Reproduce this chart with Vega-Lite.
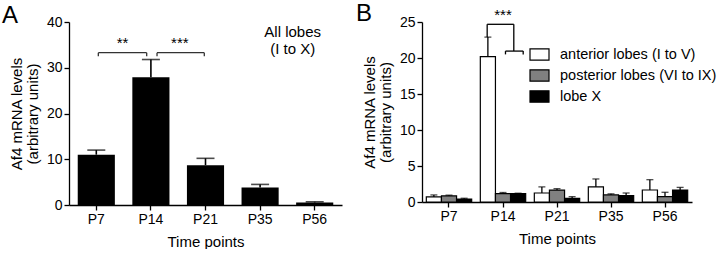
{
  "$schema": "https://vega.github.io/schema/vega-lite/v6.json",
  "padding": {"left": 2, "top": 2, "right": 0, "bottom": 0},
  "spacing": 14,
  "resolve": {"scale": {"y": "independent", "fill": "independent", "size": "independent"}, "axis": {"y": "independent"}, "legend": {"fill": "independent"}},
  "config": {
    "font": "Liberation Sans",
    "view": {"stroke": null},
    "axis": {"grid": false, "domainColor": "black", "tickColor": "black", "labelColor": "black", "titleColor": "black", "labelFontSize": 14, "titleFontSize": 15, "titleFontWeight": "normal", "tickSize": 5, "domainWidth": 1.3, "tickWidth": 1.3, "labelPadding": 2}
  },
  "hconcat": [
    {
      "width": 273,
      "height": 183,
      "layer": [
        {
          "data": {"values": [
            {"time": "P7", "value": 11.0, "upper": 12.0},
            {"time": "P14", "value": 27.9, "upper": 31.8},
            {"time": "P21", "value": 8.7, "upper": 10.2},
            {"time": "P35", "value": 3.8, "upper": 4.5},
            {"time": "P56", "value": 0.55, "upper": 0.7}
          ]},
          "encoding": {
            "x": {"field": "time", "type": "ordinal", "sort": null, "scale": {"paddingInner": 0.32, "paddingOuter": 0.16}, "axis": {"title": "Time points", "labelAngle": 0, "titlePadding": 8}},
            "y": {"field": "value", "type": "quantitative", "scale": {"domain": [0, 40]}, "axis": {"values": [0, 10, 20, 30, 40], "title": ["Af4 mRNA levels", "(arbitrary units)"], "titleLineHeight": 16, "titlePadding": 6}}
          },
          "layer": [
            {"mark": {"type": "rule", "color": "black", "strokeWidth": 1.6},
             "encoding": {"y2": {"field": "upper"}}},
            {"mark": {"type": "tick", "color": "black", "size": 18, "thickness": 1.6},
             "encoding": {"y": {"field": "upper", "type": "quantitative", "scale": {"domain": [0, 40]}, "axis": {"values": [0, 10, 20, 30, 40], "title": ["Af4 mRNA levels", "(arbitrary units)"], "titleLineHeight": 16, "titlePadding": 6}}}},
            {"mark": {"type": "bar", "color": "black"}, "encoding": {}}
          ]
        },
        {
          "layer": [
            {
              "data": {"values": [
                {"x": 1.037, "x2": 1.923, "y": 33.3, "y2": 33.3},
                {"x": 1.037, "x2": 1.037, "y": 33.3, "y2": 32.5},
                {"x": 1.923, "x2": 1.923, "y": 33.3, "y2": 32.5},
                {"x": 2.112, "x2": 2.978, "y": 33.3, "y2": 33.3},
                {"x": 2.112, "x2": 2.112, "y": 33.3, "y2": 32.5},
                {"x": 2.978, "x2": 2.978, "y": 33.3, "y2": 32.5}
              ]},
              "mark": {"type": "rule", "color": "#333333", "strokeWidth": 1.3},
              "encoding": {
                "x": {"field": "x", "type": "quantitative", "scale": {"domain": [0.5, 5.5], "nice": false, "zero": false}, "axis": null},
                "x2": {"field": "x2"},
                "y": {"field": "y", "type": "quantitative", "scale": {"domain": [0, 40]}, "axis": {"values": [0, 10, 20, 30, 40], "title": ["Af4 mRNA levels", "(arbitrary units)"], "titleLineHeight": 16, "titlePadding": 6}},
                "y2": {"field": "y2"}
              }
            },
            {
              "data": {"values": [
                {"x": 1.48, "y": 35.4, "label": "**", "size": 15},
                {"x": 2.53, "y": 35.4, "label": "***", "size": 15},
                {"x": 4.597, "y": 37.9, "label": "All lobes", "size": 15},
                {"x": 4.597, "y": 34.0, "label": "(I to X)", "size": 15},
                {"x": -0.58, "y": 41.4, "label": "A", "size": 24}
              ]},
              "mark": {"type": "text", "color": "black", "baseline": "middle", "align": "center"},
              "encoding": {
                "x": {"field": "x", "type": "quantitative", "scale": {"domain": [0.5, 5.5], "nice": false, "zero": false}, "axis": null},
                "y": {"field": "y", "type": "quantitative", "scale": {"domain": [0, 40]}, "axis": {"values": [0, 10, 20, 30, 40], "title": ["Af4 mRNA levels", "(arbitrary units)"], "titleLineHeight": 16, "titlePadding": 6}},
                "text": {"field": "label"},
                "size": {"field": "size", "type": "quantitative", "scale": null, "legend": null}
              }
            }
          ]
        }
      ],
      "resolve": {"scale": {"x": "independent"}}
    },
    {
      "width": 270,
      "height": 180,
      "layer": [
        {
          "data": {"values": [
            {"time": "P7", "series": "anterior lobes (I to V)", "value": 0.7, "upper": 0.98},
            {"time": "P7", "series": "posterior lobes (VI to IX)", "value": 0.85, "upper": 0.95},
            {"time": "P7", "series": "lobe X", "value": 0.42, "upper": 0.52},
            {"time": "P14", "series": "anterior lobes (I to V)", "value": 20.2, "upper": 22.9},
            {"time": "P14", "series": "posterior lobes (VI to IX)", "value": 1.15, "upper": 1.32},
            {"time": "P14", "series": "lobe X", "value": 1.15, "upper": 1.22},
            {"time": "P21", "series": "anterior lobes (I to V)", "value": 1.25, "upper": 2.1},
            {"time": "P21", "series": "posterior lobes (VI to IX)", "value": 1.65, "upper": 1.85},
            {"time": "P21", "series": "lobe X", "value": 0.5, "upper": 0.74},
            {"time": "P35", "series": "anterior lobes (I to V)", "value": 2.1, "upper": 3.2},
            {"time": "P35", "series": "posterior lobes (VI to IX)", "value": 0.98, "upper": 1.13},
            {"time": "P35", "series": "lobe X", "value": 0.88, "upper": 1.25},
            {"time": "P56", "series": "anterior lobes (I to V)", "value": 1.67, "upper": 3.1},
            {"time": "P56", "series": "posterior lobes (VI to IX)", "value": 0.74, "upper": 1.35},
            {"time": "P56", "series": "lobe X", "value": 1.67, "upper": 2.03}
          ]},
          "encoding": {
            "x": {"field": "time", "type": "ordinal", "sort": null, "scale": {"paddingInner": 0.16, "paddingOuter": 0.08}, "axis": {"title": "Time points", "labelAngle": 0, "titlePadding": 8}},
            "xOffset": {"field": "series", "type": "nominal", "sort": null, "scale": {"domain": ["anterior lobes (I to V)", "posterior lobes (VI to IX)", "lobe X"], "paddingInner": 0, "paddingOuter": 0}},
            "y": {"field": "value", "type": "quantitative", "scale": {"domain": [0, 25]}, "axis": {"values": [0, 5, 10, 15, 20, 25], "title": ["Af4 mRNA levels", "(arbitrary units)"], "titleLineHeight": 16, "titlePadding": 6}}
          },
          "layer": [
            {"mark": {"type": "rule", "color": "black", "strokeWidth": 1.3},
             "encoding": {"y2": {"field": "upper"}}},
            {"mark": {"type": "tick", "color": "black", "size": 7, "thickness": 1.3},
             "encoding": {"y": {"field": "upper", "type": "quantitative", "scale": {"domain": [0, 25]}, "axis": {"values": [0, 5, 10, 15, 20, 25], "title": ["Af4 mRNA levels", "(arbitrary units)"], "titleLineHeight": 16, "titlePadding": 6}}}},
            {"mark": {"type": "bar", "stroke": "black", "strokeWidth": 1.2},
             "encoding": {
               "fill": {"field": "series", "type": "nominal", "sort": null, "scale": {"domain": ["anterior lobes (I to V)", "posterior lobes (VI to IX)", "lobe X"], "range": ["white", "#808080", "black"]},
                 "legend": {"title": null, "orient": "none", "legendX": 107, "legendY": 22, "symbolType": "M-1,-0.6H1V0.6H-1Z", "symbolSize": 361, "symbolStrokeColor": "black", "symbolStrokeWidth": 1.2, "labelFontSize": 14.5, "labelColor": "black", "labelOffset": 10, "rowPadding": 2, "labelLimit": 300}}
             }}
          ]
        },
        {
          "layer": [
            {
              "data": {"values": [
                {"x": 1.707, "x2": 2.2, "y": 24.68, "y2": 24.68},
                {"x": 1.707, "x2": 1.707, "y": 24.68, "y2": 22.9},
                {"x": 2.2, "x2": 2.2, "y": 24.68, "y2": 20.96},
                {"x": 2.046, "x2": 2.374, "y": 20.96, "y2": 20.96},
                {"x": 2.046, "x2": 2.046, "y": 20.96, "y2": 20.5},
                {"x": 2.374, "x2": 2.374, "y": 20.96, "y2": 20.5}
              ]},
              "mark": {"type": "rule", "color": "black", "strokeWidth": 1.3},
              "encoding": {
                "x": {"field": "x", "type": "quantitative", "scale": {"domain": [0.5, 5.5], "nice": false, "zero": false}, "axis": null},
                "x2": {"field": "x2"},
                "y": {"field": "y", "type": "quantitative", "scale": {"domain": [0, 25]}, "axis": {"values": [0, 5, 10, 15, 20, 25], "title": ["Af4 mRNA levels", "(arbitrary units)"], "titleLineHeight": 16, "titlePadding": 6}},
                "y2": {"field": "y2"}
              }
            },
            {
              "data": {"values": [
                {"x": 2.0, "y": 26.0, "label": "***", "size": 15},
                {"x": -0.574, "y": 26.1, "label": "B", "size": 24}
              ]},
              "mark": {"type": "text", "color": "black", "baseline": "middle", "align": "center"},
              "encoding": {
                "x": {"field": "x", "type": "quantitative", "scale": {"domain": [0.5, 5.5], "nice": false, "zero": false}, "axis": null},
                "y": {"field": "y", "type": "quantitative", "scale": {"domain": [0, 25]}, "axis": {"values": [0, 5, 10, 15, 20, 25], "title": ["Af4 mRNA levels", "(arbitrary units)"], "titleLineHeight": 16, "titlePadding": 6}},
                "text": {"field": "label"},
                "size": {"field": "size", "type": "quantitative", "scale": null, "legend": null}
              }
            }
          ]
        }
      ],
      "resolve": {"scale": {"x": "independent"}}
    }
  ]
}
